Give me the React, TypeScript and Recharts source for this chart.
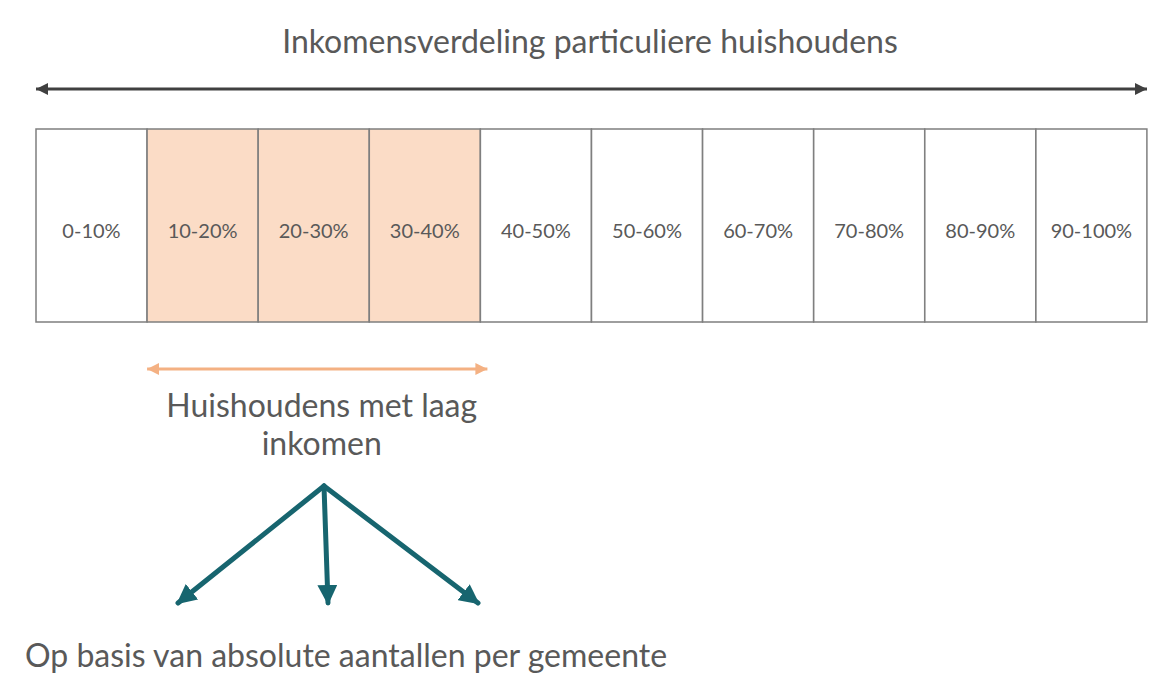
import React from 'react';
import { BarChart, Bar, XAxis, YAxis, Cell, LabelList } from 'recharts';

// deciles of household income, each holds 10% of households
const deciles = ['0-10%', '10-20%', '20-30%', '30-40%', '40-50%', '50-60%', '60-70%', '70-80%', '80-90%', '90-100%'];
const shares = [10, 10, 10, 10, 10, 10, 10, 10, 10, 10];
const lowIncome = ['10-20%', '20-30%', '30-40%'];

const title = 'Inkomensverdeling particuliere huishoudens';
const groupLines = ['Huishoudens met laag', 'inkomen'];
const footnote = 'Op basis van absolute aantallen per gemeente';

const data = deciles.map((d, i) => ({ decile: d, share: shares[i] }));

const W = 1155;
const H = 687;
const margin = { top: 129, right: 8, bottom: 365, left: 36 };
const plotW = W - margin.left - margin.right;
const cellW = plotW / deciles.length;
const font = 'Lato, "Open Sans", sans-serif';
const textColor = '#595959';

export default function App() {
    const firstLow = deciles.indexOf(lowIncome[0]);
    const lastLow = deciles.indexOf(lowIncome[lowIncome.length - 1]);
    const lowX1 = margin.left + firstLow * cellW;
    const lowX2 = margin.left + (lastLow + 1) * cellW + 7;
    const lowMid = margin.left + ((firstLow + lastLow + 1) / 2) * cellW;

    return (
        <div style={{ position: 'absolute', left: 0, top: 0, width: W, height: H, background: '#fff' }}>
            <BarChart width={W} height={H} data={data} margin={margin} barCategoryGap={0}>
                <XAxis dataKey="decile" hide />
                <YAxis hide domain={[0, 10]} />
                <Bar dataKey="share" stroke="#7f7f7f" strokeWidth={1.5} isAnimationActive={false}>
                    {data.map((d) => (
                        <Cell key={d.decile} fill={lowIncome.includes(d.decile) ? '#fbdcc6' : '#ffffff'} />
                    ))}
                    <LabelList
                        dataKey="decile"
                        position="center"
                        dy={5}
                        style={{ fill: textColor, fontFamily: font, fontSize: 20 }}
                    />
                </Bar>
            </BarChart>

            <svg width={W} height={H} style={{ position: 'absolute', left: 0, top: 0, pointerEvents: 'none' }}>
                <defs>
                    <marker id="headDark" viewBox="0 0 10 10" refX="10" refY="5" markerWidth="4" markerHeight="4" orient="auto-start-reverse">
                        <path d="M0,0 L10,5 L0,10 z" fill="#404040" />
                    </marker>
                    <marker id="headOrange" viewBox="0 0 10 10" refX="10" refY="5" markerWidth="4" markerHeight="4" orient="auto-start-reverse">
                        <path d="M0,0 L10,5 L0,10 z" fill="#f4b183" />
                    </marker>
                    <marker id="headTeal" viewBox="0 0 10 10" refX="9" refY="5" markerWidth="4" markerHeight="4" orient="auto">
                        <path d="M0,0 L10,5 L0,10 z" fill="#17656f" />
                    </marker>
                </defs>

                <text x={590} y={53} textAnchor="middle" fill={textColor} fontFamily={font} fontSize={32}>
                    {title}
                </text>
                <line x1={margin.left} y1={89} x2={W - margin.right} y2={89} stroke="#404040" strokeWidth={3}
                    markerStart="url(#headDark)" markerEnd="url(#headDark)" />

                <line x1={lowX1} y1={369} x2={lowX2} y2={369} stroke="#f4b183" strokeWidth={3}
                    markerStart="url(#headOrange)" markerEnd="url(#headOrange)" />
                {groupLines.map((t, i) => (
                    <text key={t} x={lowMid + 8} y={417 + i * 38} textAnchor="middle" fill={textColor} fontFamily={font} fontSize={32}>
                        {t}
                    </text>
                ))}

                {[178, 328, 478].map((tx) => (
                    <line key={tx} x1={324} y1={486} x2={tx} y2={603} stroke="#17656f" strokeWidth={5}
                        strokeLinecap="round" markerEnd="url(#headTeal)" />
                ))}

                <text x={25} y={667} fill={textColor} fontFamily={font} fontSize={32}>
                    {footnote}
                </text>
            </svg>
        </div>
    );
}
